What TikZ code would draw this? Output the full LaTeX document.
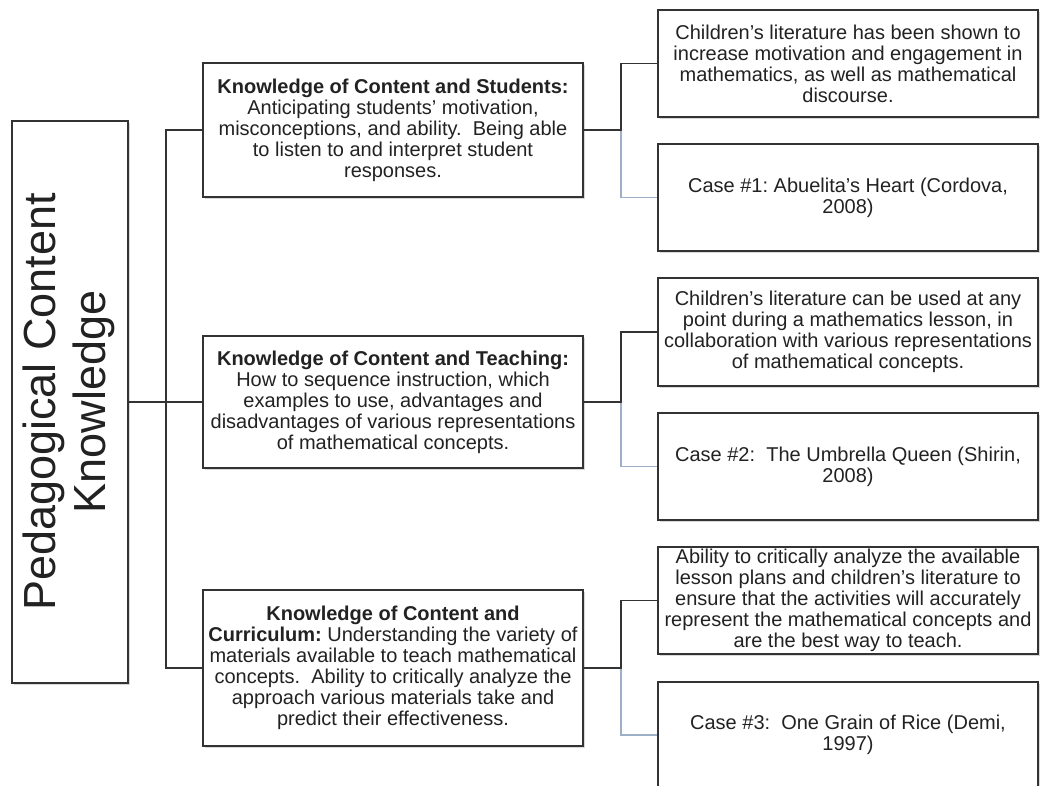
\documentclass[tikz,border=0pt]{standalone}
\usepackage{fontspec}
\setmainfont{Liberation Sans}
\usetikzlibrary{shadows,calc}
\definecolor{boxline}{HTML}{333333}
\definecolor{txt}{HTML}{222222}
\definecolor{lightln}{HTML}{9DB0C8}
\newcommand\mkl[1]{\makebox[0pt]{#1}}
\frenchspacing
\begin{document}
\begin{tikzpicture}[x=1pt,y=-1pt,
  box/.style={draw=boxline, line width=1.5pt, fill=white, inner sep=0pt, align=center, text=txt,
    font=\fontsize{20}{21}\selectfont,
    drop shadow={shadow xshift=1.5pt,shadow yshift=-1.5pt,opacity=0.3}},
  conn/.style={draw=boxline, line width=1.5pt},
  connlight/.style={draw=lightln, line width=1.5pt}]
\clip (0,0) rectangle (1040,785);
\fill[white] (0,0) rectangle (1040,785);

% left box
\node[box, minimum width=116pt, minimum height=562pt, font=\fontsize{45}{50}\selectfont] (L) at (70,402)
  {\rotatebox{90}{\begin{tabular}{@{}c@{}}Pedagogical Content\\Knowledge\end{tabular}}};

% middle boxes
\node[box, minimum width=380pt, minimum height=134pt] (B1) at (393,130)
  {\mkl{\textbf{Knowledge of Content and Students:}}\\
   \mkl{Anticipating students' motivation,}\\
   \mkl{misconceptions, and ability.~~Being able}\\
   \mkl{to listen to and interpret student}\\
   \mkl{responses.}};
\node[box, minimum width=380pt, minimum height=132pt] (B2) at (393,402)
  {\mkl{\textbf{Knowledge of Content and Teaching:}}\\
   \mkl{How to sequence instruction, which}\\
   \mkl{examples to use, advantages and}\\
   \mkl{disadvantages of various representations}\\
   \mkl{of mathematical concepts.}};
\node[box, minimum width=380pt, minimum height=156pt] (B3) at (393,668)
  {\mkl{\textbf{Knowledge of Content and}}\\
   \mkl{\textbf{Curriculum:} Understanding the variety of}\\
   \mkl{materials available to teach mathematical}\\
   \mkl{concepts.~~Ability to critically analyze the}\\
   \mkl{approach various materials take and}\\
   \mkl{predict their effectiveness.}};

% right boxes
\node[box, minimum width=380pt, minimum height=107pt] (R1) at (848,63.5)
  {\mkl{Children's literature has been shown to}\\
   \mkl{increase motivation and engagement in}\\
   \mkl{mathematics, as well as mathematical}\\
   \mkl{discourse.}};
\node[box, minimum width=380pt, minimum height=107pt] (R2) at (848,197.5)
  {\mkl{Case \#1: Abuelita’s Heart (Cordova,}\\
   \mkl{2008)}};
\node[box, minimum width=380pt, minimum height=108pt] (R3) at (848,332)
  {\mkl{Children's literature can be used at any}\\
   \mkl{point during a mathematics lesson, in}\\
   \mkl{collaboration with various representations}\\
   \mkl{of mathematical concepts.}};
\node[box, minimum width=380pt, minimum height=107pt] (R4) at (848,466.5)
  {\mkl{Case \#2:~~The Umbrella Queen (Shirin,}\\
   \mkl{2008)}};
\node[box, minimum width=380pt, minimum height=107pt] (R5) at (848,600.5)
  {\mkl{Ability to critically analyze the available}\\
   \mkl{lesson plans and children's literature to}\\
   \mkl{ensure that the activities will accurately}\\
   \mkl{represent the mathematical concepts and}\\
   \mkl{are the best way to teach.}};
\node[box, minimum width=380pt, minimum height=106pt] (R6) at (848,735)
  {\mkl{Case \#3:~~One Grain of Rice (Demi,}\\
   \mkl{1997)}};

% connectors
\coordinate (tr) at (166,402);
\draw[conn] (L.east) -- (B2.west);
\draw[conn] (B1.west) -| (tr) |- (B3.west);

\coordinate (j1) at (621,130);
\coordinate (j2) at (621,402);
\coordinate (j3) at (621,668);
\draw[connlight] (j1) |- (R2.west);
\draw[connlight] (j2) |- (R4.west);
\draw[connlight] (j3) |- (R6.west);
\draw[conn] (B1.east) -- (j1) |- (R1.west);
\draw[conn] (B2.east) -- (j2) |- (R3.west);
\draw[conn] (B3.east) -- (j3) |- (R5.west);
\end{tikzpicture}
\end{document}
